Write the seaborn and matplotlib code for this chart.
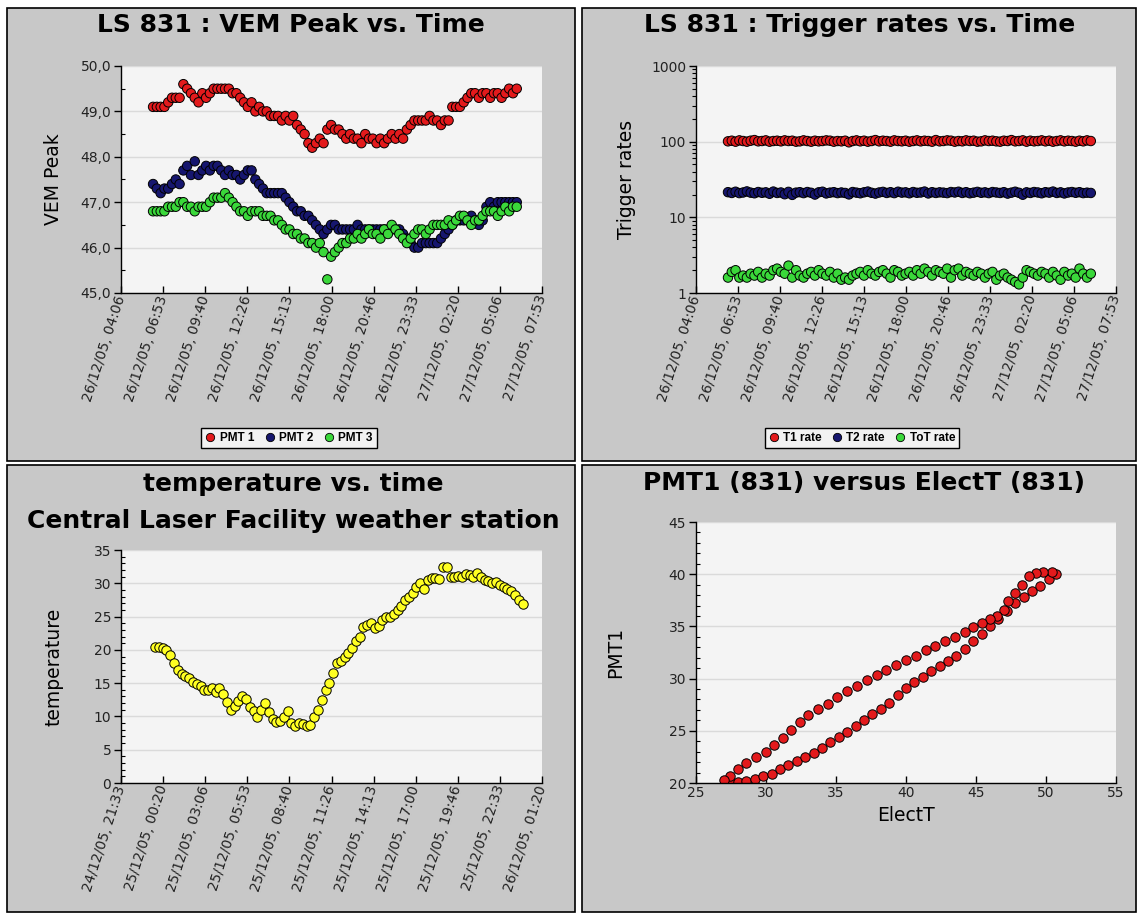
import numpy as np
import pandas as pd
import matplotlib
matplotlib.use("Agg")
import matplotlib.pyplot as plt
import matplotlib.dates as mdates
import matplotlib.ticker as mticker
from matplotlib.patches import Rectangle
import seaborn as sns

# ---------------- data ----------------
# LS 831 station data (15-minute samples starting 26/12/05 06:13)
station_start = "2005-12-26 06:13"
pmt1 = [49.1, 49.1, 49.1, 49.1, 49.2, 49.3, 49.3, 49.3, 49.6, 49.5,
        49.4, 49.3, 49.2, 49.4, 49.3, 49.4, 49.5, 49.5, 49.5, 49.5,
        49.5, 49.4, 49.4, 49.3, 49.2, 49.1, 49.2, 49.0, 49.1, 49.0,
        49.0, 48.9, 48.9, 48.9, 48.8, 48.9, 48.8, 48.9, 48.7, 48.6,
        48.5, 48.3, 48.2, 48.3, 48.4, 48.3, 48.6, 48.7, 48.6, 48.6,
        48.5, 48.4, 48.5, 48.4, 48.4, 48.3, 48.5, 48.4, 48.4, 48.3,
        48.4, 48.3, 48.4, 48.5, 48.4, 48.5, 48.4, 48.6, 48.7, 48.8,
        48.8, 48.8, 48.8, 48.9, 48.8, 48.8, 48.7, 48.8, 48.8, 49.1,
        49.1, 49.1, 49.2, 49.3, 49.4, 49.4, 49.3, 49.4, 49.4, 49.3,
        49.4, 49.4, 49.3, 49.4, 49.5, 49.4, 49.5]
pmt2 = [47.4, 47.3, 47.2, 47.3, 47.3, 47.4, 47.5, 47.4, 47.7, 47.8,
        47.6, 47.9, 47.6, 47.7, 47.8, 47.7, 47.8, 47.8, 47.7, 47.6,
        47.7, 47.6, 47.6, 47.5, 47.6, 47.7, 47.7, 47.5, 47.4, 47.3,
        47.2, 47.2, 47.2, 47.2, 47.2, 47.1, 47.0, 46.9, 46.8, 46.8,
        46.7, 46.7, 46.6, 46.5, 46.4, 46.3, 46.4, 46.5, 46.5, 46.4,
        46.4, 46.4, 46.4, 46.4, 46.5, 46.4, 46.4, 46.4, 46.4, 46.4,
        46.4, 46.4, 46.4, 46.4, 46.4, 46.4, 46.3, 46.2, 46.1, 46.0,
        46.0, 46.1, 46.1, 46.1, 46.1, 46.1, 46.2, 46.3, 46.4, 46.5,
        46.6, 46.6, 46.6, 46.6, 46.7, 46.6, 46.5, 46.6, 46.9, 47.0,
        46.9, 47.0, 47.0, 47.0, 47.0, 47.0, 47.0]
pmt3 = [46.8, 46.8, 46.8, 46.8, 46.9, 46.9, 46.9, 47.0, 47.0, 46.9,
        46.9, 46.8, 46.9, 46.9, 46.9, 47.0, 47.1, 47.1, 47.1, 47.2,
        47.1, 47.0, 46.9, 46.8, 46.8, 46.7, 46.8, 46.8, 46.8, 46.7,
        46.7, 46.7, 46.6, 46.6, 46.5, 46.4, 46.4, 46.3, 46.3, 46.2,
        46.2, 46.1, 46.1, 46.0, 46.1, 45.9, 45.3, 45.8, 45.9, 46.0,
        46.1, 46.1, 46.2, 46.2, 46.3, 46.2, 46.3, 46.4, 46.3, 46.3,
        46.2, 46.4, 46.3, 46.5, 46.4, 46.3, 46.2, 46.1, 46.2, 46.3,
        46.4, 46.4, 46.3, 46.4, 46.5, 46.5, 46.5, 46.5, 46.6, 46.5,
        46.6, 46.7, 46.7, 46.6, 46.5, 46.6, 46.6, 46.7, 46.8, 46.8,
        46.8, 46.7, 46.8, 46.9, 46.8, 46.9, 46.9]
t1_rate = [101, 103, 100, 104, 102, 100, 103, 105, 101, 102,
           104, 100, 102, 103, 101, 104, 102, 103, 100, 101,
           104, 102, 100, 103, 101, 102, 104, 103, 100, 102,
           101, 103, 98, 102, 104, 101, 103, 100, 102, 105,
           101, 103, 102, 100, 104, 102, 101, 103, 100, 102,
           104, 101, 103, 102, 100, 105, 101, 102, 104, 103,
           100, 102, 101, 104, 102, 103, 100, 101, 104, 102,
           103, 101, 100, 103, 102, 105, 101, 102, 104, 100,
           103, 101, 102, 104, 101, 103, 100, 102, 104, 101,
           103, 102, 100, 103, 101, 104, 102]
t2_rate = [21.5, 21.0, 21.8, 20.9, 21.3, 22.0, 21.2, 20.8, 21.6, 21.1,
           21.4, 20.5, 21.9, 21.0, 21.3, 20.2, 21.7, 19.8, 21.2, 21.5,
           20.9, 21.6, 21.1, 20.0, 21.4, 21.8, 20.7, 21.2, 21.5, 20.9,
           21.3, 21.0, 20.1, 21.6, 21.2, 20.8, 21.4, 21.9, 21.1, 20.6,
           21.3, 21.7, 21.0, 21.5, 20.9, 21.8, 21.2, 21.4, 20.8, 21.6,
           21.1, 21.3, 21.9, 20.7, 21.5, 21.0, 21.4, 21.2, 20.9, 21.6,
           21.3, 21.8, 21.0, 21.5, 20.8, 21.2, 21.7, 21.1, 21.4, 20.9,
           21.6, 21.3, 21.0, 21.5, 20.6, 21.2, 21.8, 21.1, 19.9, 21.4,
           21.0, 21.6, 21.3, 20.8, 21.5, 21.2, 21.9, 21.0, 21.4, 20.7,
           21.3, 21.6, 21.1, 21.5, 20.9, 21.2, 21.0]
tot_rate = [1.6, 1.9, 2.0, 1.6, 1.7, 1.6, 1.8, 1.7, 1.9, 1.6,
            1.8, 1.7, 2.0, 2.1, 1.9, 1.8, 2.3, 1.6, 2.0, 1.7,
            1.6, 1.8, 1.9, 1.7, 2.0, 1.8, 1.7, 1.9, 1.6, 1.8,
            1.5, 1.6, 1.5, 1.7, 1.8, 1.9, 1.7, 2.0, 1.8, 1.7,
            1.9, 2.0, 1.8, 1.6, 2.0, 1.9, 1.7, 1.8, 1.9, 1.7,
            2.0, 1.8, 2.1, 1.9, 1.7, 2.0, 1.9, 1.8, 2.1, 1.6,
            2.0, 2.1, 1.7, 1.9, 1.8, 1.7, 1.9, 1.8, 1.6, 1.8,
            1.9, 1.5, 1.7, 1.8, 1.6, 1.5, 1.4, 1.3, 1.6, 2.0,
            1.9, 1.8, 1.7, 1.9, 1.8, 1.6, 1.9, 1.7, 1.5, 1.9,
            1.7, 1.8, 1.6, 2.1, 1.8, 1.6, 1.8]

# CLF weather station (15-minute samples starting 24/12/05 23:48)
weather_start = "2005-12-24 23:48"
temperature = [20.5, 20.4, 20.3, 20.0, 19.2, 18.0, 16.9, 16.4, 16.1, 15.7,
               15.2, 14.9, 14.6, 14.0, 14.0, 14.3, 13.6, 14.2, 13.4, 12.2,
               11.0, 11.5, 12.3, 13.1, 12.6, 11.4, 10.8, 9.9, 11.0, 12.0,
               10.6, 9.6, 9.1, 9.3, 9.9, 10.8, 9.0, 8.5, 9.0, 8.8,
               8.5, 8.7, 9.9, 11.0, 12.5, 13.9, 15.0, 16.5, 18.0, 18.4,
               19.0, 19.6, 20.3, 21.3, 22.0, 23.4, 23.8, 24.0, 23.3, 23.6,
               24.5, 24.9, 25.0, 25.4, 26.0, 26.6, 27.5, 28.0, 28.6, 29.5,
               30.0, 29.2, 30.5, 30.8, 30.8, 30.7, 32.4, 32.4, 30.9, 31.0,
               31.1, 31.0, 31.4, 31.2, 30.9, 31.5, 31.0, 30.5, 30.3, 30.1,
               30.2, 29.8, 29.4, 29.2, 28.8, 28.2, 27.5, 26.9]

# PMT1 vs ElectT loop
elect_t = [27.1, 27.5, 28.0, 28.6, 29.2, 29.8, 30.4, 31.0, 31.6, 32.2,
           32.8, 33.4, 34.0, 34.6, 35.2, 35.8, 36.4, 37.0, 37.6, 38.2,
           38.8, 39.4, 40.0, 40.6, 41.2, 41.8, 42.4, 43.0, 43.6, 44.2,
           44.8, 45.4, 46.0, 46.6, 47.2, 47.8, 48.4, 49.0, 49.6, 50.2,
           50.7, 50.4, 49.8, 49.3, 48.8, 48.3, 47.8, 47.3, 47.0, 46.5,
           46.0, 45.4, 44.8, 44.2, 43.5, 42.8, 42.1, 41.4, 40.7, 40.0,
           39.3, 38.6, 37.9, 37.2, 36.5, 35.8, 35.1, 34.4, 33.7, 33.0,
           32.4, 31.8, 31.2, 30.6, 30.0, 29.3, 28.6, 28.0, 27.4, 27.0]
pmt1_loop = [20.2, 20.0, 20.1, 20.2, 20.4, 20.7, 20.9, 21.3, 21.7, 22.1,
             22.5, 22.9, 23.4, 23.9, 24.4, 24.9, 25.5, 26.0, 26.6, 27.1,
             27.7, 28.4, 29.1, 29.7, 30.2, 30.7, 31.2, 31.7, 32.2, 32.8,
             33.6, 34.3, 35.0, 35.7, 36.5, 37.2, 37.8, 38.4, 38.9, 39.5,
             40.0, 40.2, 40.2, 40.1, 39.8, 39.0, 38.2, 37.4, 36.6, 36.0,
             35.7, 35.3, 34.9, 34.5, 34.0, 33.6, 33.1, 32.7, 32.2, 31.8,
             31.3, 30.8, 30.3, 29.9, 29.3, 28.8, 28.2, 27.6, 27.1, 26.5,
             25.8, 25.1, 24.3, 23.6, 23.0, 22.5, 21.9, 21.3, 20.7, 20.3]

# tick labels
station_xlim = ("2005-12-26 04:06", "2005-12-27 07:53")
station_xticklabels = ["26/12/05, 04:06", "26/12/05, 06:53", "26/12/05, 09:40",
                       "26/12/05, 12:26", "26/12/05, 15:13", "26/12/05, 18:00",
                       "26/12/05, 20:46", "26/12/05, 23:33", "27/12/05, 02:20",
                       "27/12/05, 05:06", "27/12/05, 07:53"]
weather_xlim = ("2005-12-24 21:33", "2005-12-26 01:20")
weather_xticklabels = ["24/12/05, 21:33", "25/12/05, 00:20", "25/12/05, 03:06",
                       "25/12/05, 05:53", "25/12/05, 08:40", "25/12/05, 11:26",
                       "25/12/05, 14:13", "25/12/05, 17:00", "25/12/05, 19:46",
                       "25/12/05, 22:33", "26/12/05, 01:20"]
vem_yticks = [45, 46, 47, 48, 49, 50]
vem_yticklabels = ["45,0", "46,0", "47,0", "48,0", "49,0", "50,0"]
rate_yticks = [1, 10, 100, 1000]
rate_yticklabels = ["1", "10", "100", "1000"]

# ---------------- build tables ----------------
st_time = pd.date_range(station_start, periods=len(pmt1), freq="15min")
vem_df = pd.concat([
    pd.DataFrame({"time": st_time, "value": pmt1, "series": "PMT 1"}),
    pd.DataFrame({"time": st_time, "value": pmt2, "series": "PMT 2"}),
    pd.DataFrame({"time": st_time, "value": pmt3, "series": "PMT 3"}),
], ignore_index=True)
rate_df = pd.concat([
    pd.DataFrame({"time": st_time, "value": t1_rate, "series": "T1 rate"}),
    pd.DataFrame({"time": st_time, "value": t2_rate, "series": "T2 rate"}),
    pd.DataFrame({"time": st_time, "value": tot_rate, "series": "ToT rate"}),
], ignore_index=True)
wt_time = pd.date_range(weather_start, periods=len(temperature), freq="15min")
temp_df = pd.DataFrame({"time": wt_time, "temperature": temperature})
loop_df = pd.DataFrame({"ElectT": elect_t, "PMT1": pmt1_loop})

# ---------------- style ----------------
sns.set_theme(style="white")
plt.rcParams["font.family"] = ["DejaVu Sans"]
plt.rcParams["text.color"] = "black"
plt.rcParams["axes.labelcolor"] = "black"

RED, NAVY, GREEN, YELLOW = "#e31a1c", "#16166e", "#3ad83a", "#ffff22"
PANEL_BG, PLOT_BG, GRID = "#c8c8c8", "#f4f4f4", "#dadada"

W, H = 1138, 913
fig = plt.figure(figsize=(W / 100, H / 100), dpi=100, facecolor="white")


def px_box(l, t, r, b):
    return [l / W, 1 - b / H, (r - l) / W, (b - t) / H]


for (l, t, r, b) in [(7, 8, 575, 461), (582, 8, 1136, 461),
                     (7, 465, 575, 912), (582, 465, 1136, 912)]:
    bx = px_box(l, t, r, b)
    fig.add_artist(Rectangle((bx[0], bx[1]), bx[2], bx[3], transform=fig.transFigure,
                             facecolor=PANEL_BG, edgecolor="black", lw=1.2, zorder=-5))


def style_axes(ax):
    ax.set_facecolor(PLOT_BG)
    for s in ["top", "right"]:
        ax.spines[s].set_visible(False)
    for s in ["left", "bottom"]:
        ax.spines[s].set_visible(True)
        ax.spines[s].set_color("black")
        ax.spines[s].set_linewidth(1.0)
    ax.grid(False)
    ax.yaxis.grid(True, which="major", color=GRID, lw=1.0)
    ax.set_axisbelow(True)
    ax.tick_params(axis="y", which="major", left=True, direction="out", length=5,
                   width=1, color="black", labelsize=10, pad=2, labelcolor="#222222")
    ax.tick_params(axis="y", which="minor", left=True, direction="in", length=3,
                   width=0.8, color="black")
    ax.tick_params(axis="x", which="major", bottom=True, direction="in", length=5,
                   width=1, color="black", labelsize=10, pad=2, labelcolor="#222222")


def time_axis(ax, xlim, labels):
    s = mdates.date2num(pd.Timestamp(xlim[0]))
    e = mdates.date2num(pd.Timestamp(xlim[1]))
    ax.set_xlim(s, e)
    ax.set_xticks(np.linspace(s, e, len(labels)))
    ax.set_xticklabels(labels, rotation=72, ha="right", va="center",
                       rotation_mode="anchor")
    ax.set_xlabel("")


def place_legend(ax, cx, cy):
    leg = ax.get_legend()
    handles = leg.legend_handles
    labels = [t.get_text() for t in leg.get_texts()]
    leg.remove()
    for h in handles:
        h.set_markersize(6)
        h.set_markeredgecolor("black")
        h.set_markeredgewidth(0.6)
    ax.legend(handles, labels, loc="center", bbox_to_anchor=(cx / W, 1 - cy / H),
              bbox_transform=fig.transFigure, ncol=3, frameon=True, fancybox=False,
              edgecolor="black", facecolor="#f2f2f2", framealpha=1,
              prop={"family": "Liberation Sans", "weight": "bold", "size": 8.5},
              handletextpad=0.4, columnspacing=0.9, borderpad=0.35,
              handlelength=0.8)
    ax.get_legend().get_frame().set_linewidth(1.0)


SCAT = dict(s=46, edgecolor="black", linewidth=0.7)
TITLE = dict(ha="center", va="center", fontsize=18, fontweight="bold", color="black")
YLAB = dict(fontsize=13.5, color="black")

# ---- top-left: VEM peak ----
ax1 = fig.add_axes(px_box(121, 66, 542, 293))
sns.scatterplot(data=vem_df, x="time", y="value", hue="series",
                palette={"PMT 1": RED, "PMT 2": NAVY, "PMT 3": GREEN}, ax=ax1, **SCAT)
style_axes(ax1)
time_axis(ax1, station_xlim, station_xticklabels)
ax1.set_ylim(45, 50)
ax1.set_yticks(vem_yticks)
ax1.set_yticklabels(vem_yticklabels)
ax1.yaxis.set_minor_locator(mticker.MultipleLocator(0.5))
ax1.set_ylabel("VEM Peak", **YLAB)
ax1.yaxis.set_label_coords((63 - 121) / 421, 0.5)
place_legend(ax1, 289, 438)
fig.text(291 / W, 1 - 25 / H, "LS 831 : VEM Peak vs. Time", **TITLE)

# ---- top-right: trigger rates ----
ax2 = fig.add_axes(px_box(696, 66, 1116, 293))
sns.scatterplot(data=rate_df, x="time", y="value", hue="series",
                palette={"T1 rate": RED, "T2 rate": NAVY, "ToT rate": GREEN}, ax=ax2, **SCAT)
ax2.set_yscale("log")
style_axes(ax2)
time_axis(ax2, station_xlim, station_xticklabels)
ax2.set_ylim(1, 1000)
ax2.set_yticks(rate_yticks)
ax2.set_yticklabels(rate_yticklabels)
ax2.yaxis.set_minor_locator(mticker.LogLocator(base=10, subs=np.arange(2, 10)))
ax2.yaxis.set_minor_formatter(mticker.NullFormatter())
ax2.tick_params(axis="y", which="minor", direction="out", length=3)
ax2.set_ylabel("Trigger rates", **YLAB)
ax2.yaxis.set_label_coords((636 - 696) / 420, 0.5)
place_legend(ax2, 862, 438)
fig.text(860 / W, 1 - 25 / H, "LS 831 : Trigger rates vs. Time", **TITLE)

# ---- bottom-left: temperature ----
ax3 = fig.add_axes(px_box(121, 550, 542, 783))
sns.scatterplot(data=temp_df, x="time", y="temperature", color=YELLOW, ax=ax3, **SCAT)
style_axes(ax3)
time_axis(ax3, weather_xlim, weather_xticklabels)
ax3.set_ylim(0, 35)
ax3.yaxis.set_major_locator(mticker.MultipleLocator(5))
ax3.yaxis.set_minor_locator(mticker.MultipleLocator(1))
ax3.set_ylabel("temperature", **YLAB)
ax3.yaxis.set_label_coords((63 - 121) / 421, 0.5)
fig.text(293 / W, 1 - 484 / H, "temperature vs. time", **TITLE)
fig.text(293 / W, 1 - 521 / H, "Central Laser Facility weather station", **TITLE)

# ---- bottom-right: PMT1 vs ElectT ----
ax4 = fig.add_axes(px_box(696, 522, 1116, 783))
sns.scatterplot(data=loop_df, x="ElectT", y="PMT1", color=RED, ax=ax4, **SCAT)
style_axes(ax4)
ax4.set_xlim(25, 55)
ax4.set_ylim(20, 45)
ax4.xaxis.set_major_locator(mticker.MultipleLocator(5))
ax4.yaxis.set_major_locator(mticker.MultipleLocator(5))
ax4.yaxis.set_minor_locator(mticker.MultipleLocator(1))
ax4.set_xlabel("ElectT", **YLAB)
ax4.xaxis.set_label_coords(0.5, (783 - 806) / 261)
ax4.set_ylabel("PMT1", **YLAB)
ax4.yaxis.set_label_coords((625 - 696) / 420, 0.5)
fig.text(864 / W, 1 - 483 / H, "PMT1 (831) versus ElectT (831)", **TITLE)

fig.savefig("out.png", dpi=100, facecolor="white")
